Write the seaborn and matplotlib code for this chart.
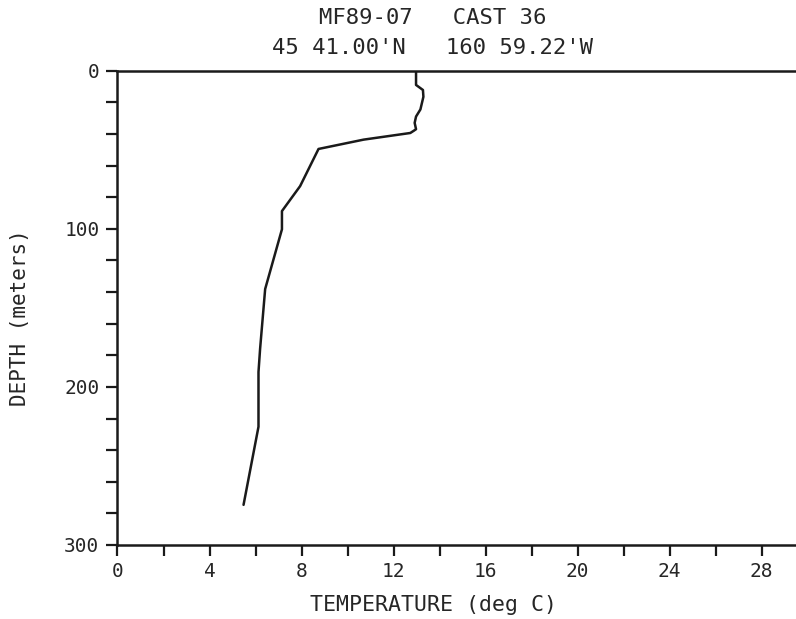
import matplotlib
matplotlib.use("Agg")
import matplotlib.pyplot as plt
from matplotlib.ticker import MultipleLocator
import seaborn as sns
import pandas as pd

# perfil de temperatura (CTD cast 36)
temperatura = [12.98, 12.98, 13.28, 13.30, 13.17, 12.98, 12.92, 12.98, 12.88,
               12.73, 10.70, 8.74, 7.94, 7.15, 7.15, 6.42, 6.20, 6.13, 6.13, 5.48]
profundidade = [0, 9.0, 12.2, 16.5, 24.5, 29.0, 33.0, 37.0, 38.0,
                39.4, 43.6, 49.5, 73.0, 88.8, 100.3, 138.1, 175.9, 190.6, 225.2, 274.6]

titulo_1 = "MF89-07   CAST 36"
titulo_2 = "45 41.00'N   160 59.22'W"
rotulo_x = "TEMPERATURE (deg C)"
rotulo_y = "DEPTH (meters)"

df = pd.DataFrame({"temp": temperatura, "depth": profundidade})

sns.set_style("white")
plt.rcParams["font.family"] = ["DejaVu Sans Mono"]

fig = plt.figure(figsize=(7.96, 6.19), dpi=100)
ax = fig.add_axes([117.5 / 796, 74 / 619, 1 - 117.5 / 796, (545 - 70.7) / 619])

sns.lineplot(data=df, x="temp", y="depth", sort=False, estimator=None,
             color="#1a1a1a", linewidth=1.8, ax=ax)

ax.set_xlim(0, (796 - 117.5) / 23.0)
ax.set_ylim(300, 0)

ax.xaxis.set_major_locator(MultipleLocator(4))
ax.xaxis.set_minor_locator(MultipleLocator(2))
ax.yaxis.set_major_locator(MultipleLocator(100))
ax.yaxis.set_minor_locator(MultipleLocator(20))
ax.tick_params(which="both", direction="out", length=8, width=1.6, color="#1a1a1a")
ax.tick_params(axis="x", which="both", bottom=True, labelsize=14, pad=4)
ax.tick_params(axis="y", which="both", left=True, labelsize=14, pad=5)

for lado in ["left", "top", "bottom"]:
    ax.spines[lado].set_color("#1a1a1a")
    ax.spines[lado].set_linewidth(1.8)
ax.spines["right"].set_visible(False)

ax.set_xlabel(rotulo_x, fontsize=15.5)
ax.set_ylabel(rotulo_y, fontsize=15, va="center")
ax.xaxis.set_label_coords((433 - 117.5) / 678.5, -0.105)
ax.yaxis.set_label_coords((20 - 117.5) / 678.5, 0.48)

fig.text(433 / 796, 1 - 18 / 619, titulo_1, ha="center", va="center", fontsize=16)
fig.text(433 / 796, 1 - 48 / 619, titulo_2, ha="center", va="center", fontsize=16)

fig.savefig("out.png", dpi=100)
plt.close()
